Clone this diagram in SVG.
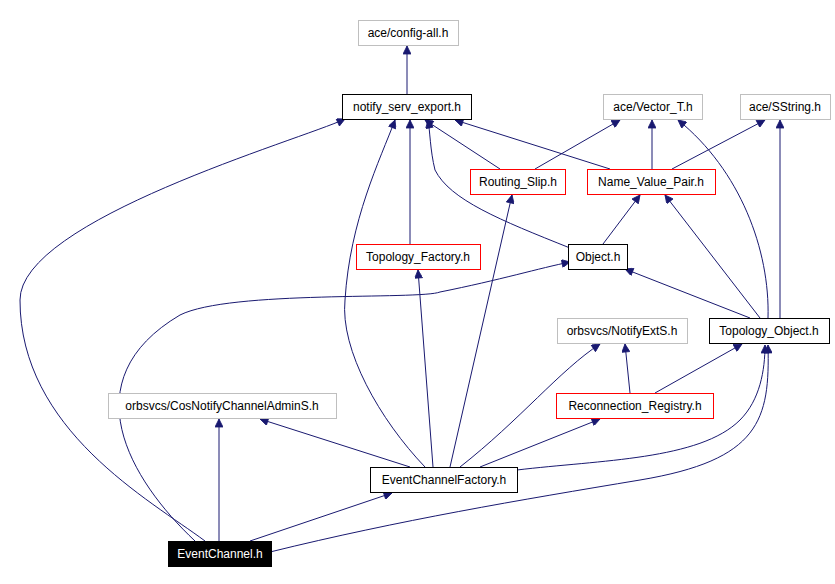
<svg xmlns="http://www.w3.org/2000/svg" width="835" height="584" viewBox="0 0 835 584">
<style>
.n rect{fill:#fff;stroke-width:1}
.b rect{stroke:#000}.g rect{stroke:#bfbfbf}.r rect{stroke:#ff0000}
text{font-family:"Liberation Sans",Arial,sans-serif;font-size:12px;text-anchor:middle;fill:#000}
#edges path{fill:none;stroke:#191970;stroke-width:1;marker-end:url(#a)}
</style>
<defs><marker id="a" viewBox="0 0 10 10" refX="10" refY="5" markerWidth="10" markerHeight="8" orient="auto" markerUnits="userSpaceOnUse"><path d="M0,0L10,5L0,10z" fill="#191970" stroke="#191970"/></marker></defs>
<rect width="835" height="584" fill="#fff"/>
<g id="edges">
<path d="M407,94V46"/>
<path d="M205,541C150,500 20,430 20,300C20,220 300,140 345,119"/>
<path d="M219,541V419"/>
<path d="M250,541L392,493"/>
<path d="M195,541C130,480 70,380 180,315C230,290 420,300 440,292C500,280 540,268 570,262"/>
<path d="M270,552C400,520 520,500 640,480C760,460 770,420 768,345"/>
<path d="M425,467C380,420 340,350 345,300C350,220 380,160 395,120"/>
<path d="M450,467L512,195"/>
<path d="M433,467L418,270"/>
<path d="M410,467L260,419"/>
<path d="M460,467C520,420 560,370 600,344"/>
<path d="M480,467L600,419"/>
<path d="M517,470C600,460 700,460 740,420C760,400 765,370 765,345"/>
<path d="M410,244V120"/>
<path d="M500,169L425,120"/>
<path d="M535,169L620,120"/>
<path d="M610,169L455,120"/>
<path d="M652,169V120"/>
<path d="M672,169L765,120"/>
<path d="M570,248C500,220 450,200 435,170C430,150 430,130 428,120"/>
<path d="M603,244L640,195"/>
<path d="M750,318L625,269"/>
<path d="M760,318L665,195"/>
<path d="M768,318C770,250 740,170 678,120"/>
<path d="M780,318V120"/>
<path d="M630,393L625,344"/>
<path d="M655,393L742,344"/>
</g>
<g id="config" class="n g"><rect x="358.5" y="20.5" width="100" height="25"/><text x="408" y="37">ace/config-all.h</text></g>
<g id="export" class="n b"><rect x="342.5" y="94.5" width="129" height="25"/><text x="407" y="111">notify_serv_export.h</text></g>
<g id="vector" class="n g"><rect x="603.5" y="94.5" width="99" height="25"/><text x="653" y="111">ace/Vector_T.h</text></g>
<g id="sstring" class="n g"><rect x="740.5" y="94.5" width="90" height="25"/><text x="785" y="111">ace/SString.h</text></g>
<g id="routing" class="n r"><rect x="470.5" y="169.5" width="95" height="25"/><text x="518" y="186">Routing_Slip.h</text></g>
<g id="nvp" class="n r"><rect x="587.5" y="169.5" width="128" height="25"/><text x="651" y="186">Name_Value_Pair.h</text></g>
<g id="tfactory" class="n r"><rect x="356.5" y="244.5" width="124" height="25"/><text x="418" y="261">Topology_Factory.h</text></g>
<g id="object" class="n b"><rect x="568.5" y="244.5" width="59" height="25"/><text x="598" y="261">Object.h</text></g>
<g id="notifyext" class="n g"><rect x="557.5" y="318.5" width="130" height="25"/><text x="622" y="335">orbsvcs/NotifyExtS.h</text></g>
<g id="tobject" class="n b"><rect x="709.5" y="318.5" width="120" height="25"/><text x="769" y="335">Topology_Object.h</text></g>
<g id="cosnotify" class="n g"><rect x="108.5" y="393.5" width="228" height="25"/><text x="222" y="410">orbsvcs/CosNotifyChannelAdminS.h</text></g>
<g id="reconn" class="n r"><rect x="556.5" y="393.5" width="157" height="25"/><text x="635" y="410">Reconnection_Registry.h</text></g>
<g id="ecfactory" class="n b"><rect x="370.5" y="467.5" width="147" height="25"/><text x="444" y="484">EventChannelFactory.h</text></g>
<g id="ec"><rect x="168.5" y="541.5" width="103" height="25" fill="#000" stroke="#000"/><text x="220" y="558" style="fill:#fff">EventChannel.h</text></g>
</svg>
